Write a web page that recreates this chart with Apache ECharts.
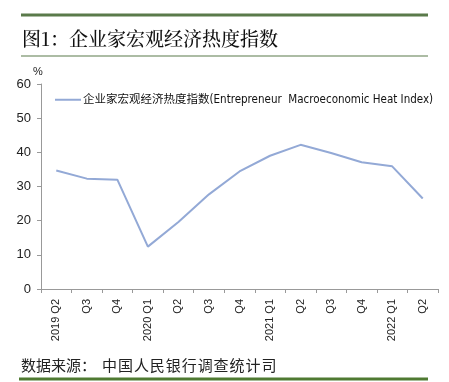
<!DOCTYPE html>
<html><head><meta charset="utf-8">
<script src="https://cdn.jsdelivr.net/npm/echarts@6/dist/echarts.min.js"></script>
<style>html,body{margin:0;padding:0;background:#fff}#c{width:449px;height:382px}</style>
</head><body><div id="c"></div>
<script>
var categories = ['2019 Q2','Q3','Q4','2020 Q1','Q2','Q3','Q4','2021 Q1','Q2','Q3','Q4','2022 Q1','Q2'];
var heatIndex = [34.7, 32.3, 32.0, 12.4, 19.6, 27.7, 34.4, 39.0, 42.2, 39.8, 37.1, 35.9, 26.5];
var yTicks = [0, 10, 20, 30, 40, 50, 60];
var seriesName = '企业家宏观经济热度指数(Entrepreneur  Macroeconomic Heat Index)';
var titleText = '图1：企业家宏观经济热度指数';
var sourceLabel = '数据来源：';
var sourceText = '中\u200a国\u200a人\u200a民\u200a银\u200a行\u200a调\u200a查\u200a统\u200a计\u200a司';

var chart = echarts.init(document.getElementById('c'), null, {renderer:'canvas'});
chart.setOption({
  animation:false,
  backgroundColor:'#fff',
  graphic:[
    {type:'rect', shape:{x:21,y:13.5,width:407,height:3}, style:{fill:'#5a7a4a'}},
    {type:'rect', shape:{x:21,y:55.5,width:407,height:1}, style:{fill:'#5a7a4a'}},
    {type:'text', left:22, top:29, style:{text:titleText, font:'500 19px "Noto Serif CJK SC", "Noto Sans CJK SC", serif', fill:'#111'}},
    {type:'text', left:21, top:358, style:{text:sourceLabel, font:'15px "Noto Sans CJK SC", sans-serif', fill:'#222'}},
    {type:'text', left:102, top:358, style:{text:sourceText, font:'15px "Noto Sans CJK SC", sans-serif', fill:'#222'}},
    {type:'rect', shape:{x:19,y:377.5,width:409,height:3}, style:{fill:'#4f7a32'}}
  ],
  legend:{
    show:true, left:50, top:89, itemWidth:26, itemHeight:2, itemGap:2,
    icon:'rect',
    textStyle:{fontSize:11.5, color:'#111', fontFamily:'"DejaVu Sans Condensed", "Noto Sans CJK SC", sans-serif', padding:[0,0,0,-3]},
    data:[seriesName]
  },
  grid:{left:41, right:11, top:84, bottom:93, containLabel:false},
  xAxis:{
    type:'category', data:categories, boundaryGap:true,
    axisLine:{lineStyle:{color:'#999', width:1}},
    axisTick:{show:true, length:4, lineStyle:{color:'#999'}, alignWithLabel:false},
    axisLabel:{rotate:90, fontSize:11, color:'#222', margin:10, interval:0, fontFamily:'"Liberation Sans", Arial, sans-serif'}
  },
  yAxis:{
    type:'value', min:0, max:60, interval:10,
    name:'%', nameGap:5, nameTextStyle:{fontSize:11, color:'#222', align:'center', padding:[0,0,0,-6]},
    axisLine:{show:true, lineStyle:{color:'#999'}},
    axisTick:{show:true, length:4, lineStyle:{color:'#999'}},
    splitLine:{show:false},
    axisLabel:{fontSize:13, color:'#222', margin:10, fontFamily:'"Liberation Sans", Arial, sans-serif',
      formatter:function(v){return yTicks.indexOf(v)>=0? String(v):'';}}
  },
  series:[{
    name:seriesName, type:'line', data:heatIndex,
    symbol:'none', lineStyle:{color:'#93a9d6', width:2}, itemStyle:{color:'#93a9d6'}
  }]
});
</script></body></html>
